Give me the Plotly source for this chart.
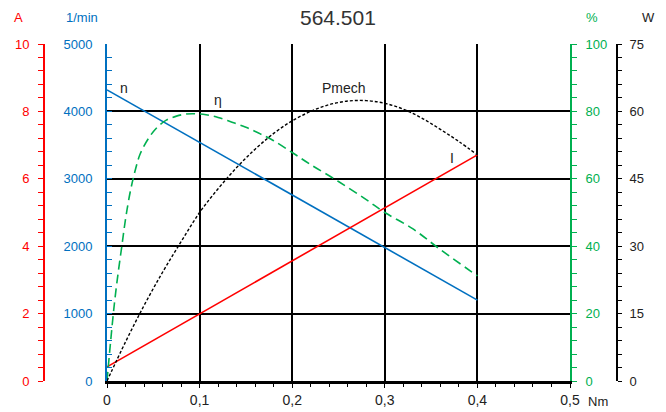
import plotly.graph_objects as go

# ---- data ----
torque_lin = [0.0, 0.4]
speed_n = [4320, 1200]          # 1/min
current_I = [0.42, 6.71]        # A

torque_eta = [0, 0.004, 0.008, 0.012, 0.016, 0.02, 0.025, 0.03, 0.036, 0.046, 0.055,
              0.064, 0.075, 0.085, 0.095, 0.107, 0.12, 0.135, 0.15, 0.165, 0.18,
              0.2, 0.22, 0.25, 0.28, 0.3, 0.33, 0.36, 0.4]
eff_eta = [0, 12, 23, 32, 40, 48, 56, 62, 67.5, 72.5, 75.5, 77.4, 78.6, 79.2, 79.3,
           79, 78.2, 76.8, 75.3, 73.4, 71.3, 67.8, 64.2, 59.2, 53.8, 50.0, 45.2, 39.0, 31.2]

torque_p = [0, 0.02, 0.04, 0.06, 0.08, 0.10, 0.12, 0.14, 0.16, 0.18, 0.20, 0.22,
            0.24, 0.26, 0.28, 0.30, 0.32, 0.34, 0.36, 0.38, 0.40]
pmech = [0, 8.7, 16.8, 24.2, 31.0, 37.5, 42.8, 47.5, 51.6, 55.1, 57.9, 60.0,
         61.5, 62.3, 62.4, 61.8, 60.5, 58.5, 56.0, 53.3, 50.3]

x_tickvals = [0, 0.1, 0.2, 0.3, 0.4, 0.5]
x_ticktext = ["0", "0,1", "0,2", "0,3", "0,4", "0,5"]

title_text = "564.501"

BLUE = "#0070C0"
RED = "#FF0000"
GREEN = "#00B050"
BLACK = "#000000"
FONT = "Liberation Sans, Arial, sans-serif"

W, H = 666, 412
px_l, px_r, px_t, px_b = 107, 570, 44, 381
dom_x = [px_l / W, px_r / W]
dom_y = [1 - px_b / H, 1 - px_t / H]

fig = go.Figure()
fig.add_trace(go.Scatter(x=torque_lin, y=speed_n, mode="lines",
                         line=dict(color=BLUE, width=1.6), yaxis="y"))
fig.add_trace(go.Scatter(x=torque_lin, y=current_I, mode="lines",
                         line=dict(color=RED, width=1.6), yaxis="y2"))
fig.add_trace(go.Scatter(x=torque_eta, y=eff_eta, mode="lines", line_shape="spline",
                         line=dict(color=GREEN, width=1.6, dash="9px,5px"), yaxis="y3"))
fig.add_trace(go.Scatter(x=torque_p, y=pmech, mode="lines", line_shape="spline",
                         line=dict(color=BLACK, width=1.4, dash="3px,2px"), yaxis="y4"))

tickfont = lambda c: dict(family=FONT, size=13, color=c)

fig.update_layout(
    width=W, height=H,
    margin=dict(l=0, r=0, t=0, b=0),
    paper_bgcolor="white", plot_bgcolor="white",
    showlegend=False,
    xaxis=dict(domain=dom_x, range=[0, 0.5], tickvals=x_tickvals, ticktext=x_ticktext,
               showgrid=True, gridcolor=BLACK, gridwidth=1.5,
               showline=True, linecolor=BLACK, linewidth=2.5,
               ticks="outside", ticklen=4, tickcolor=BLACK,
               minor=dict(ticks="outside", dtick=0.02, ticklen=3, tickcolor=BLACK, showgrid=False),
               tickfont=dict(family=FONT, size=14, color="#222"), zeroline=False,
               automargin=False),
    yaxis=dict(domain=dom_y, range=[0, 5000], dtick=1000, side="left",
               showgrid=True, gridcolor=BLACK, gridwidth=1.5,
               showline=True, linecolor=BLUE, linewidth=2,
               ticks="inside", ticklen=5, tickcolor=BLUE,
               minor=dict(ticks="inside", dtick=200, ticklen=5, tickcolor=BLUE, showgrid=False),
               tickfont=tickfont(BLUE), zeroline=False, automargin=False,
               ticklabelstandoff=10),
    yaxis2=dict(range=[0, 10], dtick=2, overlaying="y", anchor="free",
                position=44 / W, side="left", showgrid=False,
                showline=True, linecolor=RED, linewidth=2,
                ticks="outside", ticklen=5, tickcolor=RED,
                minor=dict(ticks="outside", dtick=0.4, ticklen=5, tickcolor=RED),
                tickfont=tickfont(RED), zeroline=False, automargin=False,
                ticklabelstandoff=6),
    yaxis3=dict(range=[0, 100], dtick=20, overlaying="y", anchor="x", side="right",
                showgrid=False, showline=True, linecolor=GREEN, linewidth=2,
                ticks="outside", ticklen=5, tickcolor=GREEN,
                minor=dict(ticks="outside", dtick=4, ticklen=5, tickcolor=GREEN),
                tickfont=tickfont(GREEN), zeroline=False, automargin=False,
                ticklabelstandoff=6),
    yaxis4=dict(range=[0, 75], dtick=15, overlaying="y", anchor="free",
                position=617 / W, side="right", showgrid=False,
                showline=True, linecolor=BLACK, linewidth=2,
                ticks="outside", ticklen=4, tickcolor=BLACK,
                minor=dict(ticks="outside", dtick=3, ticklen=4, tickcolor=BLACK),
                tickfont=tickfont("#222"), zeroline=False, automargin=False,
                ticklabelstandoff=5),
)

def px_ann(text, x, y, color, size=13):
    fig.add_annotation(text=text, x=x / W, y=1 - y / H, xref="paper", yref="paper",
                       showarrow=False, font=dict(family=FONT, size=size, color=color),
                       xanchor="center", yanchor="middle")

px_ann(title_text, 338, 18, "#333", 21)
px_ann("A", 18, 18, RED)
px_ann("1/min", 82, 18, BLUE)
px_ann("%", 592, 18, GREEN)
px_ann("W", 648, 18, "#222")
px_ann("Nm", 598, 401, "#222")

# curve labels in data coords
for txt, xv, yv in [("n", 0.0184, 4347), ("η", 0.120, 4169),
                    ("Pmech", 0.256, 4347), ("I", 0.3726, 3309)]:
    fig.add_annotation(text=txt, x=xv, y=yv, xref="x", yref="y", showarrow=False,
                       font=dict(family=FONT, size=14, color="#222"))

fig.write_html("out.html")
